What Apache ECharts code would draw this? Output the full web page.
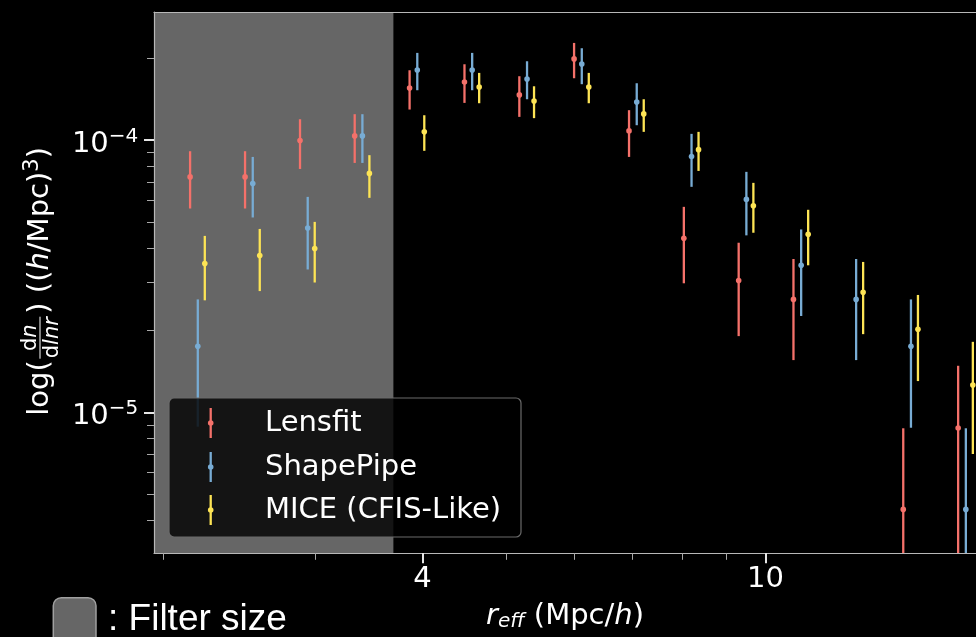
<!DOCTYPE html>
<html><head><meta charset="utf-8">
<script src="https://cdn.jsdelivr.net/npm/echarts@6/dist/echarts.min.js"></script>
<style>html,body{margin:0;padding:0;background:#000}#c{width:976px;height:637px}</style>
</head><body><div id="c"></div>
<script>
// ---- data ----
const rEffBins = [2.194, 2.541, 2.943, 3.406, 3.944, 4.567, 5.288, 6.121, 7.089, 8.207, 9.502, 11.00, 12.74, 14.75, 17.08];
const seriesNames = ['Lensfit', 'ShapePipe', 'MICE (CFIS-Like)'];

const lensfitVal  = [7.33e-5, 7.33e-5, 9.97e-5, 1.037e-4, 1.556e-4, 1.637e-4, 1.467e-4, 1.989e-4, 1.082e-4, 4.36e-5, 3.05e-5, 2.60e-5, null, 4.40e-6, 8.76e-6];
const lensfitLow  = [5.61e-5, 5.61e-5, 7.84e-5, 8.25e-5, 1.296e-4, 1.371e-4, 1.218e-4, 1.689e-4, 8.68e-5, 2.98e-5, 1.906e-5, 1.556e-5, null, 6e-8, 2.69e-6];
const lensfitHigh = [9.11e-5, 9.11e-5, 1.194e-4, 1.246e-4, 1.807e-4, 1.901e-4, 1.718e-4, 2.277e-4, 1.289e-4, 5.69e-5, 4.20e-5, 3.66e-5, null, 8.74e-6, 1.483e-5];

const shapePipeVal  = [1.75e-5, 6.93e-5, 4.76e-5, 1.037e-4, 1.812e-4, 1.812e-4, 1.679e-4, 1.906e-4, 1.382e-4, 8.71e-5, 6.06e-5, 3.47e-5, 2.60e-5, 1.75e-5, 4.40e-6];
const shapePipeLow  = [8.86e-6, 5.20e-5, 3.35e-5, 8.25e-5, 1.526e-4, 1.526e-4, 1.414e-4, 1.606e-4, 1.135e-4, 6.74e-5, 4.47e-5, 2.26e-5, 1.556e-5, 8.78e-6, 6e-8];
const shapePipeHigh = [2.60e-5, 8.68e-5, 6.19e-5, 1.246e-4, 2.093e-4, 2.093e-4, 1.95e-4, 2.177e-4, 1.619e-4, 1.055e-4, 7.65e-5, 4.70e-5, 3.66e-5, 2.60e-5, 8.74e-6];

const miceVal  = [3.52e-5, 3.77e-5, 4.00e-5, 7.55e-5, 1.073e-4, 1.569e-4, 1.394e-4, 1.569e-4, 1.249e-4, 9.23e-5, 5.74e-5, 4.51e-5, 2.76e-5, 2.02e-5, 1.26e-5];
const miceLow  = [2.58e-5, 2.79e-5, 3.00e-5, 6.14e-5, 9.14e-5, 1.367e-4, 1.205e-4, 1.367e-4, 1.073e-4, 7.71e-5, 4.57e-5, 3.47e-5, 1.938e-5, 1.303e-5, 7.03e-6];
const miceHigh = [4.45e-5, 4.72e-5, 5.01e-5, 8.81e-5, 1.235e-4, 1.767e-4, 1.578e-4, 1.767e-4, 1.414e-4, 1.073e-4, 6.97e-5, 5.55e-5, 3.57e-5, 2.70e-5, 1.816e-5];

const filterSize = 3.70;
const xMin = 1.9517, xMax = 17.55;
const yMin = 3.035e-6, yMax = 2.958e-4;
const xMajorTicks = [4, 10];
const xMinorTicks = [2, 3, 5, 6, 7, 8, 9];
const yMajorTicks = [1e-5, 1e-4];
const yMinorTicks = [3e-6, 4e-6, 5e-6, 6e-6, 7e-6, 8e-6, 9e-6, 2e-5, 3e-5, 4e-5, 5e-5, 6e-5, 7e-5, 8e-5, 9e-5, 2e-4];

// ---- styles ----
const colors = ['#f4716a', '#78acd4', '#fde455'];
const dodges = [-7.7, 0, 7.0];
const FONT = 'DejaVu Sans';

function makeSeries(idx, vals, lows, highs) {
  const color = colors[idx], dodge = dodges[idx];
  const data = [];
  rEffBins.forEach((x, i) => { if (vals[i] != null) data.push([x, vals[i], lows[i], highs[i]]); });
  return {
    type: 'custom', name: seriesNames[idx], xAxisIndex: 0, yAxisIndex: 0, z: 3,
    itemStyle: { color }, encode: { x: 0, y: 1 }, data,
    renderItem(params, api) {
      const cs = params.coordSys;
      const c = api.coord([api.value(0), api.value(1)]);
      const lo = api.coord([api.value(0), api.value(2)]);
      const hi = api.coord([api.value(0), api.value(3)]);
      const x = c[0] + dodge;
      const yTop = Math.max(cs.y, hi[1]);
      const yBot = Math.min(cs.y + cs.height, lo[1]);
      return { type: 'group', children: [
        { type: 'line', shape: { x1: x, y1: yTop, x2: x, y2: yBot }, style: { stroke: color, lineWidth: 2.3 } },
        { type: 'circle', shape: { cx: x, cy: c[1], r: 2.8 }, style: { fill: color } }
      ]};
    }
  };
}

const chart = echarts.init(document.getElementById('c'));
const axisCol = '#b8b8b8';
const ZG = 100;

const legendChildren = [
  { type: 'rect', z: ZG, shape: { x: 169, y: 398, width: 352, height: 139, r: 5 }, style: { fill: 'rgba(0,0,0,0.8)', stroke: '#6a6a6a', lineWidth: 1.2 } }
];
const legendY = [423, 467, 510];
seriesNames.forEach((n, i) => {
  const cy = legendY[i];
  legendChildren.push({ type: 'line', z: ZG + 1, shape: { x1: 210.7, y1: cy - 15, x2: 210.7, y2: cy + 15 }, style: { stroke: colors[i], lineWidth: 2.3 } });
  legendChildren.push({ type: 'circle', z: ZG + 1, shape: { cx: 210.7, cy: cy, r: 2.8 }, style: { fill: colors[i] } });
  legendChildren.push({ type: 'text', z: ZG + 1, x: 265, y: cy + 0.3, style: { text: n, fill: '#fff', fontSize: 29, fontFamily: FONT, align: 'left', verticalAlign: 'middle' } });
});

const option = {
  backgroundColor: '#000',
  animation: false,
  grid: { left: 154, top: 12, right: 0, bottom: 83.7, show: false },
  xAxis: [
    { type: 'log', logBase: 10, min: xMin, max: xMax, position: 'bottom', gridIndex: 0, z: 5,
      axisLine: { show: true, lineStyle: { color: axisCol, width: 1.2 } },
      axisTick: { show: true, customValues: xMajorTicks, length: 10, lineStyle: { color: '#fff', width: 1.8 } },
      axisLabel: { show: true, customValues: xMajorTicks, margin: 11.5, color: '#fff', fontSize: 29, fontFamily: FONT,
        formatter: v => String(Math.round(v)) },
      splitLine: { show: false }, minorTick: { show: false },
      name: '{i|r}{e|eff}{n| (Mpc/}{i|h}{n|)}', nameLocation: 'middle', nameGap: 48,
      nameTextStyle: { color: '#fff', fontSize: 29, fontFamily: FONT,
        rich: { i: { fontStyle: 'italic', fontSize: 29, color: '#fff', fontFamily: FONT },
                e: { fontStyle: 'italic', fontSize: 20, color: '#fff', fontFamily: FONT, padding: [10, 0, 0, 0] },
                n: { fontSize: 29, color: '#fff', fontFamily: FONT } } }
    },
    { type: 'log', logBase: 10, min: xMin, max: xMax, position: 'bottom', gridIndex: 0, z: 5,
      axisLine: { show: false },
      axisTick: { show: true, customValues: xMinorTicks, length: 6.5, lineStyle: { color: '#a8a8a8', width: 1 } },
      axisLabel: { show: false }, splitLine: { show: false }, minorTick: { show: false }
    },
    { type: 'log', logBase: 10, min: xMin, max: xMax, position: 'top', gridIndex: 0, z: 5,
      axisLine: { show: true, lineStyle: { color: axisCol, width: 1.2 } },
      axisTick: { show: false }, axisLabel: { show: false }, splitLine: { show: false }, minorTick: { show: false }
    }
  ],
  yAxis: [
    { type: 'log', logBase: 10, min: yMin, max: yMax, position: 'left', gridIndex: 0, z: 5,
      axisLine: { show: true, lineStyle: { color: axisCol, width: 1.2 } },
      axisTick: { show: true, customValues: yMajorTicks, length: 10, lineStyle: { color: '#fff', width: 1.8 } },
      axisLabel: { show: true, customValues: yMajorTicks, margin: 15.7, color: '#fff', fontFamily: FONT,
        formatter: v => '{a|10}{b|\u2212' + Math.round(-Math.log10(v)) + '}',
        rich: { a: { fontSize: 29, color: '#fff', fontFamily: FONT, padding: [8, 0, 0, 0] },
                b: { fontSize: 20, color: '#fff', fontFamily: FONT, padding: [0, 0, 7, 0] } } },
      splitLine: { show: false }, minorTick: { show: false }
    },
    { type: 'log', logBase: 10, min: yMin, max: yMax, position: 'left', gridIndex: 0, z: 5,
      axisLine: { show: false },
      axisTick: { show: true, customValues: yMinorTicks, length: 7, lineStyle: { color: '#a8a8a8', width: 1 } },
      axisLabel: { show: false }, splitLine: { show: false }, minorTick: { show: false }
    }
  ],
  series: [
    { type: 'custom', name: 'filter', z: -1, xAxisIndex: 0, yAxisIndex: 0, data: [], renderItem: () => null,
      markArea: { silent: true, z: -1, itemStyle: { color: '#666666', opacity: 1 }, data: [[{ xAxis: xMin }, { xAxis: filterSize }]] } },
    makeSeries(0, lensfitVal, lensfitLow, lensfitHigh),
    makeSeries(1, shapePipeVal, shapePipeLow, shapePipeHigh),
    makeSeries(2, miceVal, miceLow, miceHigh)
  ],
  graphic: [
    { type: 'group', children: legendChildren },
    { type: 'group', x: 40, y: 415.7, rotation: Math.PI / 2, children: [
      { type: 'text', z: ZG, x: 0, y: 0, style: { text: 'log(', fill: '#fff', fontSize: 29, fontFamily: FONT, align: 'left', verticalAlign: 'middle' } },
      { type: 'text', z: ZG, x: 78, y: -9.5, style: { text: '{u|d}{i|n}', fill: '#fff', fontSize: 21, fontFamily: FONT, align: 'center', verticalAlign: 'middle',
          rich: { u: { fontSize: 21, fontFamily: FONT, fill: '#fff' }, i: { fontSize: 21, fontFamily: FONT, fontStyle: 'italic', fill: '#fff' } } } },
      { type: 'line', z: ZG, shape: { x1: 57, y1: 0, x2: 99, y2: 0 }, style: { stroke: '#fff', lineWidth: 1 } },
      { type: 'text', z: ZG, x: 78, y: 12.5, style: { text: '{u|d}{i|lnr}', fill: '#fff', fontSize: 21, fontFamily: FONT, align: 'center', verticalAlign: 'middle',
          rich: { u: { fontSize: 21, fontFamily: FONT, fill: '#fff' }, i: { fontSize: 21, fontFamily: FONT, fontStyle: 'italic', fill: '#fff' } } } },
      { type: 'text', z: ZG, x: 102, y: 0, style: { text: '{n|) ((}{i|h}{n|/Mpc)}{s|3}{n|)}', fill: '#fff', fontSize: 29, fontFamily: FONT, align: 'left', verticalAlign: 'middle',
          rich: { n: { fontSize: 29, fontFamily: FONT, fill: '#fff' },
                  i: { fontSize: 29, fontFamily: FONT, fontStyle: 'italic', fill: '#fff' },
                  s: { fontSize: 21, fontFamily: FONT, fill: '#fff', padding: [0, 0, 15, 0] } } } }
    ]},
    { type: 'group', children: [
      { type: 'rect', z: ZG, shape: { x: 53.3, y: 597.7, width: 42.7, height: 60, r: 8 }, style: { fill: '#666666', stroke: '#a0a0a0', lineWidth: 1.5 } },
      { type: 'text', z: ZG, x: 108, y: 620, style: { text: ': Filter size', fill: '#fff', fontSize: 37, fontFamily: 'Liberation Sans', align: 'left', verticalAlign: 'middle' } }
    ]}
  ]
};
chart.setOption(option);
</script>
</body></html>
